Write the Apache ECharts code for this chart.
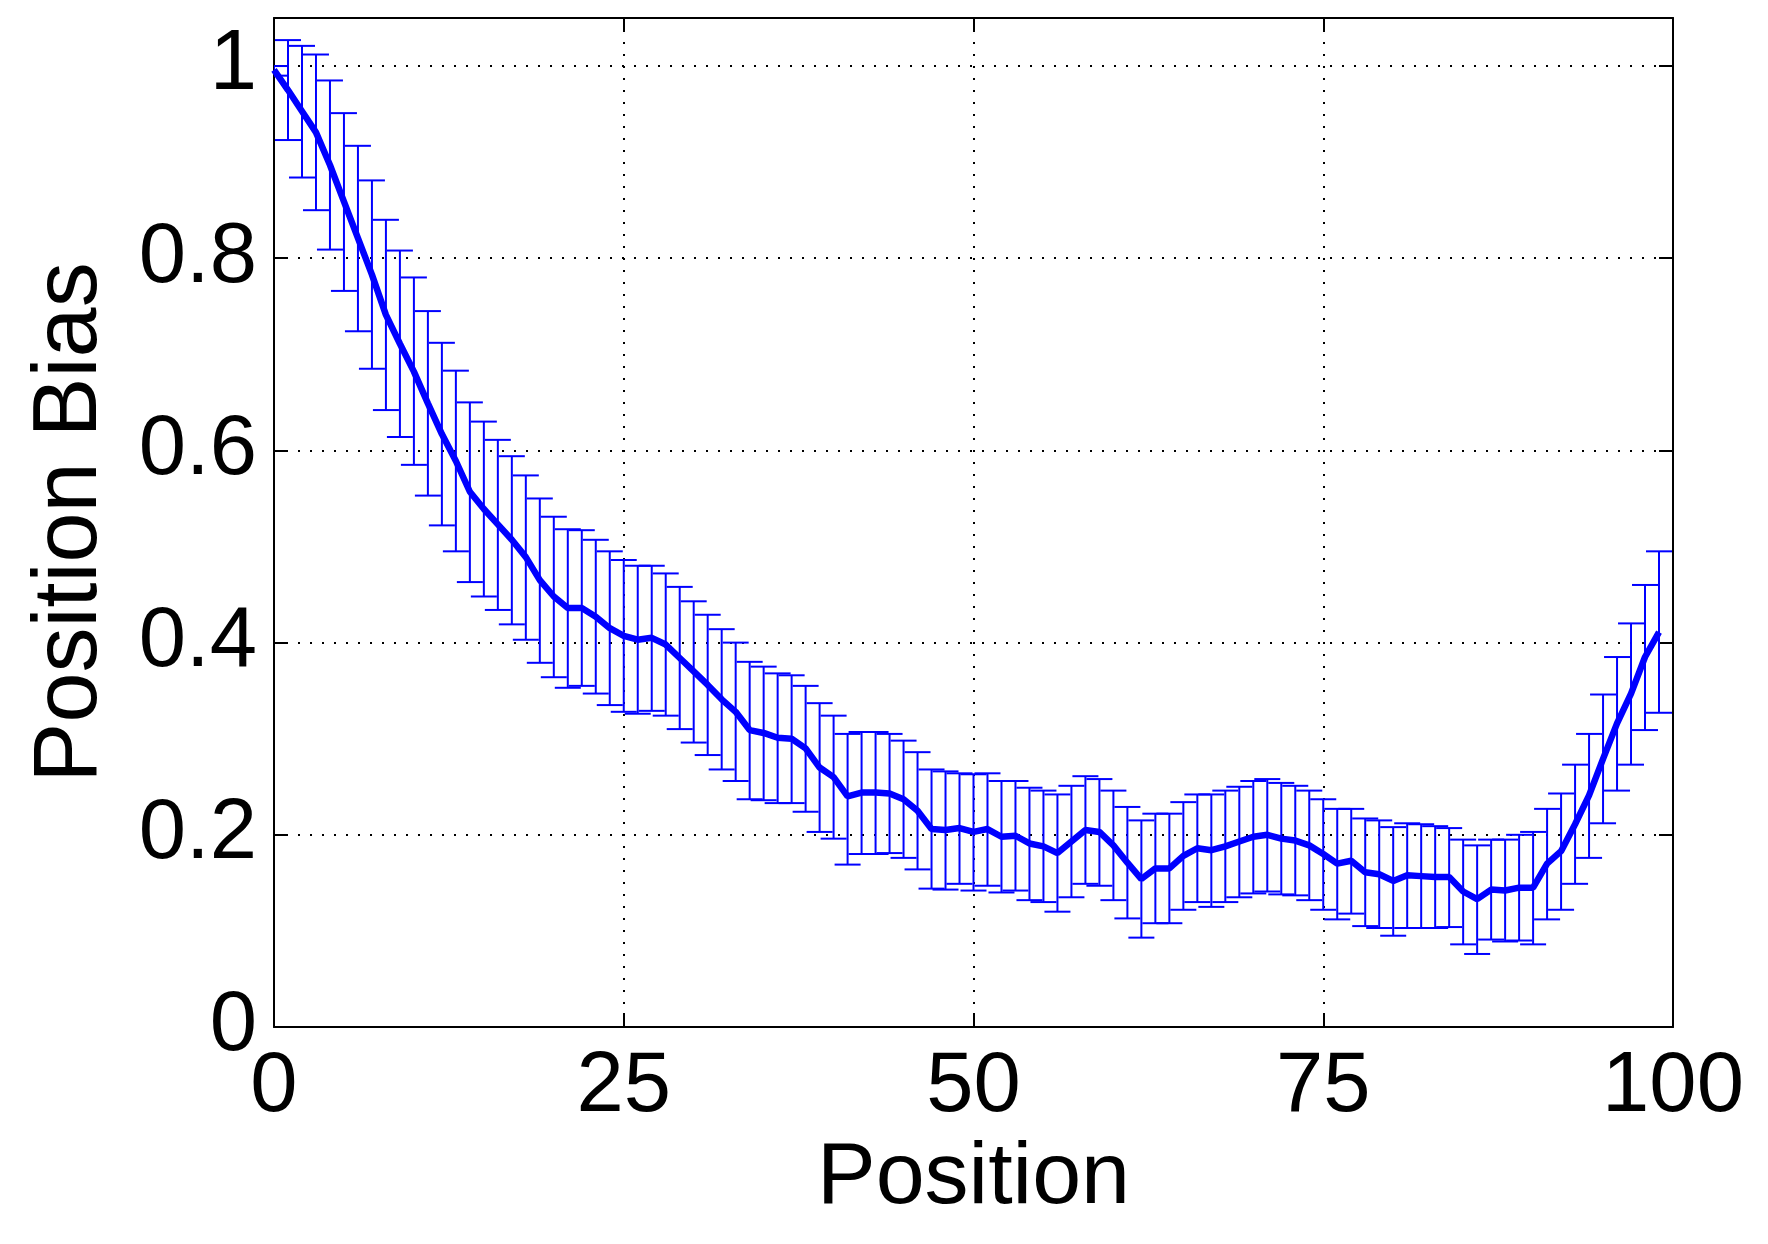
<!DOCTYPE html>
<html><head><meta charset="utf-8">
<script src="https://cdn.jsdelivr.net/npm/echarts@6/dist/echarts.min.js"></script>
<style>html,body{margin:0;padding:0;background:#fff}#c{width:1768px;height:1244px}</style>
</head><body><div id="c"></div>
<script>
const positions = [0,1,2,3,4,5,6,7,8,9,10,11,12,13,14,15,16,17,18,19,20,21,22,23,24,25,26,27,28,29,30,31,32,33,34,35,36,37,38,39,40,41,42,43,44,45,46,47,48,49,50,51,52,53,54,55,56,57,58,59,60,61,62,63,64,65,66,67,68,69,70,71,72,73,74,75,76,77,78,79,80,81,82,83,84,85,86,87,88,89,90,91,92,93,94,95,96,97,98,99];
const meanBias = [0.996,0.975,0.953,0.931,0.897,0.859,0.821,0.783,0.741,0.711,0.682,0.649,0.617,0.589,0.557,0.539,0.523,0.507,0.489,0.465,0.448,0.436,0.436,0.427,0.415,0.407,0.403,0.405,0.398,0.384,0.370,0.356,0.341,0.328,0.309,0.306,0.301,0.300,0.290,0.270,0.260,0.240,0.244,0.244,0.243,0.237,0.225,0.206,0.205,0.207,0.203,0.206,0.198,0.199,0.191,0.188,0.181,0.193,0.205,0.203,0.189,0.171,0.154,0.165,0.165,0.178,0.186,0.184,0.188,0.193,0.198,0.200,0.196,0.194,0.189,0.180,0.170,0.173,0.161,0.159,0.152,0.158,0.157,0.156,0.156,0.141,0.133,0.143,0.142,0.145,0.145,0.170,0.183,0.211,0.241,0.279,0.316,0.347,0.385,0.411];
const upperBias = [1.000,1.027,1.021,1.012,0.985,0.951,0.917,0.881,0.840,0.808,0.780,0.745,0.712,0.683,0.650,0.630,0.611,0.594,0.574,0.550,0.531,0.518,0.517,0.507,0.495,0.486,0.480,0.480,0.472,0.458,0.443,0.429,0.414,0.400,0.380,0.375,0.368,0.366,0.355,0.337,0.324,0.305,0.307,0.307,0.305,0.298,0.286,0.268,0.266,0.264,0.263,0.264,0.256,0.256,0.249,0.246,0.242,0.251,0.261,0.258,0.246,0.229,0.215,0.222,0.222,0.234,0.242,0.242,0.246,0.250,0.256,0.258,0.254,0.251,0.246,0.237,0.227,0.227,0.217,0.215,0.208,0.212,0.211,0.209,0.207,0.195,0.189,0.195,0.195,0.200,0.203,0.227,0.243,0.273,0.305,0.346,0.385,0.420,0.460,0.495];
const lowerBias = [0.990,0.923,0.884,0.850,0.809,0.766,0.724,0.685,0.642,0.614,0.585,0.553,0.522,0.495,0.463,0.448,0.434,0.419,0.403,0.379,0.364,0.353,0.355,0.347,0.335,0.328,0.326,0.329,0.324,0.310,0.296,0.283,0.268,0.256,0.237,0.236,0.233,0.233,0.224,0.203,0.196,0.169,0.180,0.180,0.181,0.176,0.164,0.144,0.143,0.149,0.142,0.147,0.140,0.142,0.132,0.130,0.120,0.135,0.149,0.147,0.132,0.113,0.093,0.108,0.108,0.122,0.130,0.125,0.130,0.135,0.139,0.141,0.138,0.137,0.132,0.122,0.112,0.118,0.105,0.103,0.095,0.103,0.103,0.103,0.104,0.086,0.076,0.091,0.089,0.090,0.086,0.112,0.122,0.149,0.176,0.212,0.246,0.273,0.309,0.327];
const xTicks = [0,25,50,75,100];
const yTicks = [0,0.2,0.4,0.6,0.8,1];
const xTitle = 'Position';
const yTitle = 'Position Bias';

const FONT = '"Liberation Sans", Arial, Helvetica, sans-serif';
const BLUE = '#0000FF';

const lineData = positions.map((p, i) => [p, meanBias[i]]);
const barData = positions.map((p, i) => [p, lowerBias[i], upperBias[i]]);

function renderBar(params, api) {
  const x = api.value(0), lo = api.value(1), hi = api.value(2);
  const a = api.coord([x, hi]), b = api.coord([x, lo]);
  const hw = 13;
  const st = {stroke: BLUE, lineWidth: 2, fill: null};
  return {type: 'group', children: [
    {type: 'line', shape: {x1: a[0], y1: a[1], x2: b[0], y2: b[1]}, style: st},
    {type: 'line', shape: {x1: a[0] - hw, y1: a[1], x2: a[0] + hw, y2: a[1]}, style: st},
    {type: 'line', shape: {x1: b[0] - hw, y1: b[1], x2: b[0] + hw, y2: b[1]}, style: st}
  ]};
}

const axisLineStyle = {show: true, onZero: false, lineStyle: {color: '#000', width: 2}};
const tickStyle = {show: true, inside: true, length: 14, lineStyle: {color: '#000', width: 2}};
const gridLine = {show: true, lineStyle: {color: '#000', width: 2, type: [2, 10]}};

const xMin = xTicks[0], xMax = xTicks[xTicks.length - 1], xInt = xTicks[1] - xTicks[0];
const yMin = yTicks[0], yInt = yTicks[1] - yTicks[0];
const yMax = 1.05;

const chart = echarts.init(document.getElementById('c'), null, {renderer: 'canvas'});
chart.setOption({
  animation: false,
  backgroundColor: '#fff',
  grid: {left: 274, right: 95, top: 18, bottom: 217, containLabel: false},
  xAxis: [
    {type: 'value', position: 'bottom', min: xMin, max: xMax, interval: xInt,
     axisLine: axisLineStyle, axisTick: tickStyle, splitLine: gridLine,
     axisLabel: {color: '#000', fontSize: 85, fontFamily: FONT, margin: 18},
     name: xTitle, nameLocation: 'middle', nameGap: 105,
     nameTextStyle: {color: '#000', fontSize: 88, fontFamily: FONT}},
    {type: 'value', position: 'top', min: xMin, max: xMax, interval: xInt,
     axisLine: axisLineStyle, axisTick: tickStyle, splitLine: {show: false},
     axisLabel: {show: false}}
  ],
  yAxis: [
    {type: 'value', position: 'left', min: yMin, max: yMax, interval: yInt,
     axisLine: axisLineStyle, axisTick: tickStyle, splitLine: gridLine,
     axisLabel: {color: '#000', fontSize: 85, fontFamily: FONT, margin: 17,
       formatter: v => (v > 1.0001 ? '' : String(+v.toFixed(2)))},
     name: yTitle, nameLocation: 'middle', nameGap: 158, nameRotate: 90,
     nameTextStyle: {color: '#000', fontSize: 90, fontFamily: FONT}},
    {type: 'value', position: 'right', min: yMin, max: yMax, interval: yInt,
     axisLine: axisLineStyle, axisTick: tickStyle, splitLine: {show: false},
     axisLabel: {show: false}}
  ],
  series: [
    {type: 'custom', xAxisIndex: 0, yAxisIndex: 0, data: barData, renderItem: renderBar,
     clip: true, z: 2, encode: {x: 0, y: [1, 2]}},
    {type: 'line', xAxisIndex: 0, yAxisIndex: 0, data: lineData, showSymbol: false,
     symbol: 'none', lineStyle: {color: BLUE, width: 6.5}, z: 3, clip: true}
  ]
});
</script></body></html>
